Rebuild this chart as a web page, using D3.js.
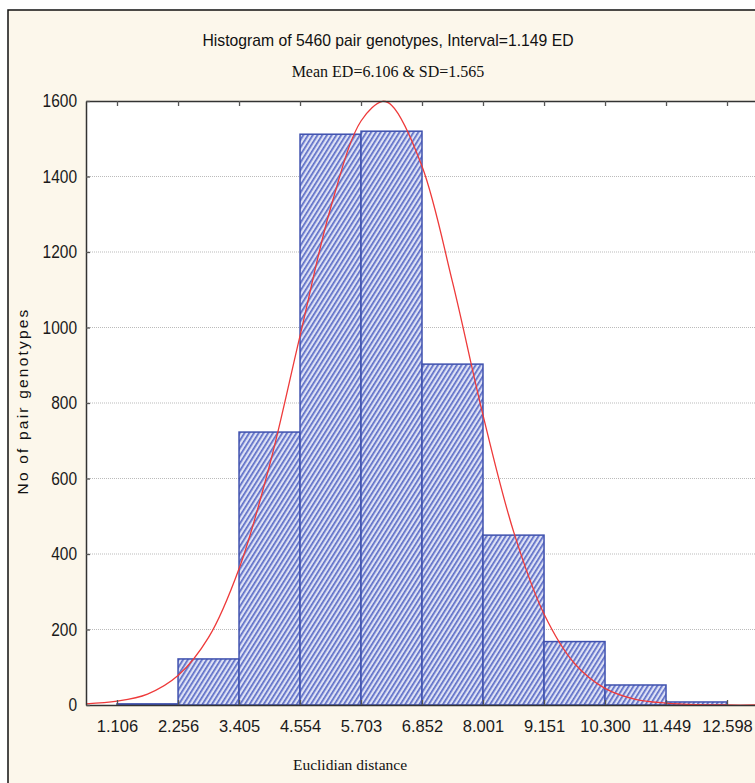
<!DOCTYPE html>
<html>
<head>
<meta charset="utf-8">
<script src="https://cdn.jsdelivr.net/npm/d3@7"></script>
<style>
  body { margin: 0; background: #fff; }
  .tick text { font-family: "Liberation Sans Narrow", "Arial Narrow", "Liberation Sans", sans-serif; }
</style>
</head>
<body>
<div id="chart"></div>
<script>
// bin edges (Euclidian distance) and counts per bin
var binEdges = [1.106, 2.256, 3.405, 4.554, 5.703, 6.852, 8.001, 9.151, 10.300, 11.449, 12.598];
var binLabels = ["1.106", "2.256", "3.405", "4.554", "5.703", "6.852", "8.001", "9.151", "10.300", "11.449", "12.598"];
var counts = [3, 122, 723, 1512, 1520, 903, 450, 168, 53, 8];

// fitted normal curve
var curveX = [0.522, 1.106, 1.681, 2.256, 2.831, 3.405, 3.980, 4.554, 5.129, 5.703, 6.106, 6.278,
              6.852, 7.427, 8.001, 8.576, 9.151, 9.725, 10.300, 10.874, 11.449, 12.023, 12.598, 13.2];
var curveY = [3, 10, 29, 78, 179, 361, 635, 978, 1316, 1547, 1599, 1589,
              1427, 1120, 768, 460, 241, 110, 44, 15, 5, 1, 0, 0];

var yTicks = [0, 200, 400, 600, 800, 1000, 1200, 1400, 1600];

var W = 755, H = 783;
var margin = {top: 101, left: 86, right: 788, bottom: 705};

var svg = d3.select("#chart").append("svg")
    .attr("width", W)
    .attr("height", H);

// squeeze text to look like a narrow font
function narrow(sel, f) {
  sel.each(function() {
    var len = this.getComputedTextLength();
    d3.select(this).attr("textLength", len * f).attr("lengthAdjust", "spacingAndGlyphs");
  });
}

// outer frame
svg.append("rect")
    .attr("x", 8).attr("y", 10)
    .attr("width", 900).attr("height", 900)
    .attr("fill", "#fcf7eb")
    .attr("stroke", "#111")
    .attr("stroke-width", 1.5);

var x = d3.scaleLinear()
    .domain([0.522, 13.747])
    .range([margin.left, margin.right]);

var y = d3.scaleLinear()
    .domain([0, 1600])
    .range([margin.bottom, margin.top]);

// plot area
svg.append("rect")
    .attr("x", margin.left).attr("y", margin.top)
    .attr("width", margin.right - margin.left)
    .attr("height", margin.bottom - margin.top)
    .attr("fill", "#fff");

// hatch pattern
var defs = svg.append("defs");
var pat = defs.append("pattern")
    .attr("id", "hatch")
    .attr("patternUnits", "userSpaceOnUse")
    .attr("width", 4).attr("height", 4)
    .attr("patternTransform", "rotate(32)");
pat.append("rect").attr("width", 4).attr("height", 4).attr("fill", "#dde1f5");
pat.append("rect").attr("x", 0).attr("y", 0).attr("width", 1.7).attr("height", 4).attr("fill", "#5b6cc6");

// grid lines
svg.append("g")
  .selectAll("line")
  .data(yTicks.filter(function(d) { return d > 0 && d < 1600; }))
  .enter().append("line")
    .attr("x1", margin.left).attr("x2", margin.right)
    .attr("y1", function(d) { return y(d); })
    .attr("y2", function(d) { return y(d); })
    .attr("stroke", "#bbb")
    .attr("stroke-width", 1)
    .attr("stroke-dasharray", "1,1");

// bars
svg.append("g")
  .selectAll("rect")
  .data(counts)
  .enter().append("rect")
    .attr("x", function(d, i) { return x(binEdges[i]); })
    .attr("y", function(d) { return y(d); })
    .attr("width", function(d, i) { return x(binEdges[i + 1]) - x(binEdges[i]); })
    .attr("height", function(d) { return y(0) - y(d); })
    .attr("fill", "url(#hatch)")
    .attr("stroke", "#3f51ae")
    .attr("stroke-width", 1.5);

// normal curve
var line = d3.line()
    .x(function(d, i) { return x(curveX[i]); })
    .y(function(d) { return y(d); })
    .curve(d3.curveCatmullRom);

svg.append("path")
    .datum(curveY)
    .attr("d", line)
    .attr("fill", "none")
    .attr("stroke", "#ee3a3a")
    .attr("stroke-width", 1.3);

// axes
var xAxis = d3.axisBottom(x)
    .tickValues(binEdges)
    .tickFormat(function(d, i) { return binLabels[i]; })
    .tickSizeInner(-5)
    .tickSizeOuter(0)
    .tickPadding(15);

var gx = svg.append("g")
    .attr("transform", "translate(0," + margin.bottom + ")")
    .call(xAxis);
gx.selectAll("text").style("font-size", "16.5px").attr("fill", "#1a1a1a");

var gxTop = svg.append("g")
    .attr("transform", "translate(0," + margin.top + ")")
    .call(d3.axisTop(x).tickValues(binEdges).tickFormat("").tickSizeInner(-5).tickSizeOuter(0));

var gy = svg.append("g")
    .attr("transform", "translate(" + margin.left + ",0)")
    .call(d3.axisLeft(y).tickValues(yTicks).tickFormat(d3.format("d"))
      .tickSizeInner(-4).tickSizeOuter(0).tickPadding(9));
gy.selectAll("text").style("font-size", "18px").attr("fill", "#1a1a1a").call(narrow, 0.86);

[gx, gxTop, gy].forEach(function(g) {
  g.select(".domain").attr("stroke", "#333").attr("stroke-width", 1.5);
  g.selectAll(".tick line").attr("stroke", "#555").attr("stroke-width", 1.3);
});

// titles
svg.append("text")
    .attr("x", 388).attr("y", 46)
    .attr("text-anchor", "middle")
    .style("font-family", "'Liberation Sans', Arial, sans-serif")
    .style("font-size", "17px")
    .attr("fill", "#111")
    .text("Histogram of 5460 pair genotypes, Interval=1.149 ED")
    .call(narrow, 0.925);

svg.append("text")
    .attr("x", 388).attr("y", 77)
    .attr("text-anchor", "middle")
    .style("font-family", "'Liberation Serif', 'Times New Roman', serif")
    .style("font-size", "16px")
    .attr("fill", "#111")
    .text("Mean ED=6.106 & SD=1.565");

svg.append("text")
    .attr("x", 350).attr("y", 770)
    .attr("text-anchor", "middle")
    .style("font-family", "'Liberation Serif', 'Times New Roman', serif")
    .style("font-size", "15.5px")
    .attr("fill", "#111")
    .text("Euclidian distance");

svg.append("text")
    .attr("transform", "translate(28,401) rotate(-90)")
    .attr("text-anchor", "middle")
    .style("font-family", "'Liberation Sans', Arial, sans-serif")
    .style("font-size", "15.5px")
    .style("letter-spacing", "2.2px")
    .attr("fill", "#111")
    .text("No of pair genotypes");
</script>
</body>
</html>
